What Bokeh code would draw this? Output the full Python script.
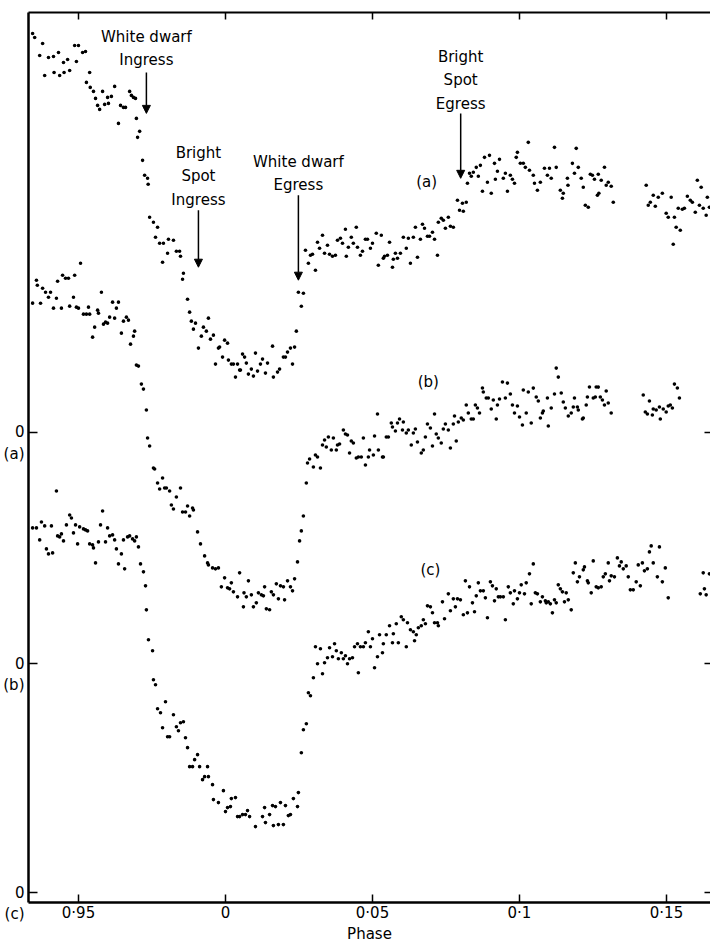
from bokeh.plotting import figure
from bokeh.models import LinearAxis, FixedTicker, Range1d, Label, Arrow, NormalHead
from bokeh.embed import file_html
from bokeh.resources import INLINE

FONT = "DejaVu Sans"

# (phase in units of 0.001, relative flux in counts above each curve's own zero)
CURVE_A = [
    (-65.6,399),(-64.9,395),(-63.2,377),(-62.2,389),(-61.5,357),(-60.2,375),(-58.5,376),(-58.3,360),
    (-56.8,380),(-56.4,357),(-55.1,370),(-54.9,360),(-53.7,373),(-53.0,362),(-51.3,387),(-50.7,371),
    (-50.0,387),(-48.6,380),(-47.6,381),(-47.3,350),(-46.2,360),(-46.0,345),(-44.9,341),(-44.2,334),
    (-43.5,327),(-42.8,323),(-41.8,341),(-41.1,328),(-40.1,335),(-39.8,329),(-38.8,336),(-37.7,346),
    (-36.4,309),(-35.7,327),(-34.7,325),(-34.0,325),(-32.6,341),(-32.0,337),(-31.3,335),(-30.6,334),
    (-30.3,314),(-29.9,295),(-29.2,301),(-28.2,272),(-27.5,257),(-26.5,254),(-26.3,248),(-25.8,215),
    (-24.5,210),(-23.8,195),(-23.1,205),(-22.4,189),(-21.4,170),(-21.1,189),(-19.7,179),(-19.4,193),
    (-17.7,192),(-16.7,181),(-15.6,181),(-15.3,176),(-14.6,153),(-14.3,159),(-12.9,133),(-12.2,120),
    (-11.6,111),(-10.9,103),(-10.2,109),(-9.2,84),(-8.2,96),(-7.5,105),(-6.5,101),(-5.8,114),
    (-5.1,93),(-4.1,97),(-3.4,68),(-2.4,84),(-2.0,85),(-1.0,75),(-0.3,92),(0.7,89),
    (1.0,72),(2.0,68),(2.7,68),(3.4,55),(4.1,68),(4.8,62),(5.1,62),(5.8,78),
    (6.5,75),(7.1,69),(7.8,58),(8.8,63),(9.5,56),(10.2,79),(10.9,61),(11.9,68),
    (12.6,73),(13.6,59),(14.3,69),(16.0,86),(16.3,55),(17.7,60),(18.4,63),(19.7,75),
    (20.4,75),(21.1,80),(22.1,84),(22.8,68),(23.5,85),(24.1,101),(24.8,140),(25.8,126),
    (26.5,139),(27.2,182),(28.2,169),(28.9,177),(29.6,178),(30.6,162),(31.3,190),(32.0,184),
    (33.0,197),(33.7,179),(34.7,187),(35.4,178),(36.4,176),(37.4,177),(38.1,192),(39.1,194),
    (39.8,189),(40.8,203),(41.1,176),(41.8,185),(42.8,195),(43.5,189),(44.5,205),(44.9,185),
    (45.9,177),(46.6,181),(47.6,193),(48.3,193),(49.3,184),(50.0,189),(51.3,199),(52.0,167),
    (53.0,197),(53.7,174),(54.1,176),(55.1,177),(55.8,190),(56.8,165),(57.1,173),(57.8,179),
    (58.5,174),(59.5,179),(60.5,195),(61.5,184),(62.2,194),(62.9,169),(63.9,195),(64.6,205),
    (65.3,175),(66.3,193),(67.0,208),(67.7,204),(68.7,196),(69.4,196),(70.4,200),(71.1,193),
    (72.1,177),(72.4,210),(73.4,214),(74.1,212),(74.8,204),(75.8,215),(76.5,206),(77.5,205),
    (78.9,232),(79.6,222),(80.6,229),(80.9,221),(81.9,230),(82.3,249),(83.0,259),(83.6,256),
    (84.3,260),(85.3,265),(86.0,256),(86.7,267),(87.4,241),(88.1,275),(89.1,250),(89.8,277),
    (90.4,239),(91.5,269),(91.8,253),(92.5,261),(93.2,273),(94.5,254),(95.2,259),(95.9,241),
    (96.9,257),(97.6,253),(98.3,249),(98.9,275),(99.3,280),(100.3,269),(101.3,269),(102.0,265),
    (103.0,290),(103.4,262),(104.7,257),(105.1,249),(106.1,242),(107.1,250),(108.5,264),(109.5,257),
    (110.2,264),(110.8,254),(111.9,285),(112.5,265),(113.9,242),(114.6,234),(114.9,239),(116.3,254),
    (116.5,247),(118.0,269),(118.7,259),(119.3,284),(120.0,265),(121.0,254),(121.7,245),(122.4,227),
    (123.4,225),(124.1,258),(124.8,257),(125.5,253),(126.5,237),(126.8,258),(127.0,239),(127.8,252),
    (128.9,265),(129.5,247),(130.2,250),(131.2,246),(131.9,230),
    (143.1,247),(143.8,227),(144.5,230),(145.5,237),(146.2,226),(147.2,235),(148.6,239),(149.9,219),
    (150.6,215),(151.6,235),(152.3,188),(152.7,215),(153.3,205),(154.0,224),(154.7,202),(155.4,223),
    (156.1,224),(157.1,236),(158.1,232),(158.8,230),(159.8,220),(160.5,252),(161.2,227),(161.8,245),
    (162.5,224),(163.5,217),(163.9,235),(164.6,225),
]

CURVE_B = [
    (-65.6,361),(-64.3,384),(-64.0,379),(-62.9,361),(-62.2,376),(-61.2,372),(-60.2,367),(-59.5,372),
    (-58.5,356),(-57.5,366),(-57.1,383),(-55.8,356),(-55.4,389),(-54.4,386),(-53.4,386),(-53.0,358),
    (-51.7,367),(-51.3,389),(-50.7,357),(-50.0,356),(-49.3,401),(-48.3,350),(-47.3,350),(-46.6,357),
    (-46.2,350),(-45.2,327),(-44.5,337),(-43.5,354),(-43.2,351),(-42.2,372),(-41.5,340),(-40.8,342),
    (-40.1,341),(-39.4,347),(-38.4,362),(-37.7,346),(-37.1,356),(-36.4,362),(-35.4,331),(-34.7,343),
    (-33.7,347),(-33.0,344),(-32.3,320),(-31.3,328),(-30.9,333),(-30.3,299),(-29.6,298),(-28.6,280),
    (-27.9,275),(-26.9,254),(-26.5,226),(-25.8,218),(-24.5,196),(-24.1,195),(-23.1,181),(-22.4,175),
    (-21.4,186),(-20.7,176),(-20.1,176),(-19.0,173),(-18.4,159),(-17.7,155),(-16.7,167),(-15.3,176),
    (-14.6,152),(-13.6,152),(-12.9,158),(-12.2,148),(-11.2,156),(-10.9,154),(-9.5,132),(-8.5,120),
    (-7.1,108),(-6.1,101),(-5.8,99),(-4.4,96),(-3.4,95),(-2.4,96),(-1.4,77),(-0.3,86),
    (0.7,76),(1.4,75),(2.0,81),(2.7,72),(4.1,67),(4.8,91),(6.1,57),(6.3,71),
    (7.1,67),(7.8,83),(8.8,69),(9.5,57),(10.5,61),(11.2,71),(12.2,69),(12.9,68),
    (13.3,77),(13.9,55),(15.0,54),(15.6,72),(16.3,69),(17.3,80),(18.0,65),(18.7,78),
    (19.7,77),(20.1,64),(21.1,83),(22.1,77),(22.8,73),(23.5,85),(24.5,102),(25.2,123),
    (25.8,133),(26.5,148),(27.5,181),(27.9,201),(28.6,205),(29.9,197),(30.6,209),(31.3,207),
    (32.3,196),(33.0,219),(33.7,224),(34.3,217),(35.0,227),(36.0,214),(36.7,226),(37.7,214),
    (38.1,219),(38.8,220),(40.1,234),(40.8,230),(41.5,229),(42.2,211),(42.8,223),(43.5,221),
    (44.5,206),(45.2,207),(46.2,207),(46.9,226),(47.6,199),(48.6,207),(49.0,214),(50.3,209),
    (50.7,228),(51.7,250),(52.0,214),(53.4,207),(53.7,207),(54.7,227),(55.4,227),(56.4,241),
    (56.8,237),(57.8,233),(58.5,241),(59.2,245),(60.2,234),(60.5,242),(61.5,231),(62.2,234),
    (63.2,219),(63.9,231),(64.6,235),(65.3,222),(66.6,211),(67.3,214),(68.0,227),(68.7,240),
    (69.7,236),(70.4,218),(71.1,250),(71.7,230),(72.4,226),(73.4,221),(74.1,235),(74.8,240),
    (75.8,234),(76.5,216),(77.5,240),(77.9,248),(78.5,223),(79.2,242),(80.2,246),(80.9,244),
    (81.9,259),(82.6,251),(83.6,245),(84.3,245),(85.0,259),(85.7,256),(86.4,251),(87.4,276),
    (87.7,272),(88.7,266),(89.4,266),(90.4,255),(91.1,264),(92.1,245),(92.5,259),(93.2,265),
    (94.2,282),(95.2,266),(95.9,281),(96.9,270),(97.6,259),(98.3,251),(99.3,258),(100.0,247),
    (101.0,239),(101.3,274),(102.3,251),(103.0,272),(104.0,241),(104.7,276),(105.7,267),(106.4,263),
    (107.1,246),(107.8,251),(108.1,253),(109.5,266),(109.8,238),(110.8,256),(111.9,270),(112.5,296),
    (113.2,287),(114.2,271),(114.9,262),(115.6,256),(116.6,248),(117.6,251),(118.3,257),(118.7,266),
    (119.7,257),(120.0,254),(121.4,245),(121.7,246),(122.7,259),(123.1,267),(123.8,277),(125.1,266),
    (125.8,267),(126.1,277),(126.8,277),(127.5,267),(128.2,264),(128.9,259),(129.5,273),(130.2,261),
    (131.2,251),
    (142.1,269),(142.8,252),(143.5,250),(144.2,263),(145.2,249),(145.5,255),(146.5,254),(147.6,257),
    (147.9,245),(148.9,255),(149.9,252),(150.6,258),(151.3,259),(152.0,256),(152.7,280),(153.7,276),
    (154.4,266),
]

CURVE_C = [
    (-65.6,365),(-64.3,365),(-63.2,353),(-62.6,371),(-61.5,367),(-60.9,344),(-60.2,339),(-59.2,367),
    (-58.8,340),(-57.5,402),(-57.1,357),(-56.4,356),(-55.8,359),(-55.1,352),(-54.1,368),(-53.0,378),
    (-52.4,375),(-51.7,360),(-51.0,368),(-50.3,349),(-49.6,366),(-48.3,364),(-47.6,363),(-46.9,362),
    (-46.2,349),(-45.2,348),(-44.9,345),(-44.2,330),(-43.2,351),(-42.5,368),(-41.8,382),(-40.8,351),
    (-40.1,365),(-39.4,357),(-38.4,358),(-37.7,353),(-37.1,344),(-36.4,329),(-35.4,339),(-34.7,353),
    (-34.3,324),(-33.3,356),(-32.6,357),(-31.6,354),(-30.9,352),(-30.3,356),(-29.6,346),(-28.9,329),
    (-27.9,321),(-27.2,307),(-26.9,283),(-26.2,253),(-24.8,242),(-24.5,213),(-23.8,208),(-23.1,184),
    (-22.1,180),(-21.4,165),(-20.4,191),(-19.7,156),(-19.0,156),(-17.7,178),(-16.7,166),(-16.0,162),
    (-15.3,170),(-14.3,171),(-13.6,155),(-12.9,145),(-12.2,126),(-11.2,126),(-10.5,133),(-9.5,138),
    (-8.8,126),(-7.8,113),(-7.1,116),(-6.1,126),(-5.8,116),(-4.4,108),(-4.1,93),(-2.4,90),
    (-0.7,102),(0.0,81),(0.7,85),(1.7,86),(2.0,94),(3.4,95),(4.1,76),(4.8,76),
    (5.8,78),(6.8,78),(7.5,82),(8.2,76),(10.2,66),(12.6,76),(13.3,85),(13.6,70),
    (15.0,78),(16.0,87),(16.3,67),(17.0,86),(18.0,68),(18.7,90),(19.7,68),(20.4,87),
    (21.4,77),(22.1,78),(23.1,94),(24.5,86),(24.8,100),(25.8,140),(26.5,163),(27.5,169),
    (28.2,200),(28.9,197),(29.9,215),(30.6,246),(31.3,229),(32.3,244),(33.0,219),(33.7,230),
    (34.7,235),(35.4,245),(36.4,236),(37.1,249),(37.7,242),(38.4,234),(39.4,240),(40.1,234),
    (40.8,237),(41.5,229),(42.2,234),(43.2,235),(43.9,246),(44.9,249),(45.2,220),(45.9,246),
    (46.9,246),(47.6,250),(48.6,261),(49.3,246),(50.0,254),(50.7,225),(51.7,236),(52.4,258),
    (53.4,240),(53.7,249),(54.7,258),(55.8,267),(56.8,250),(57.1,259),(58.1,269),(58.8,250),
    (59.8,276),(60.5,273),(61.5,246),(61.9,270),(62.9,263),(63.9,261),(64.3,252),(64.9,258),
    (65.6,265),(66.6,267),(67.3,273),(68.0,269),(68.7,287),(69.7,286),(70.4,280),(71.1,270),
    (72.1,270),(72.4,267),(73.8,291),(74.5,274),(75.8,299),(76.5,282),(77.5,294),(78.2,286),
    (78.9,294),(79.9,293),(80.9,278),(81.6,312),(82.3,280),(83.0,306),(84.0,290),(84.7,281),
    (85.3,297),(86.0,310),(86.7,302),(87.7,302),(88.4,295),(89.1,275),(90.1,311),(90.8,307),
    (91.5,292),(92.1,304),(92.8,296),(93.5,296),(94.5,296),(95.2,273),(96.2,306),(96.9,300),
    (97.9,289),(98.3,302),(99.3,294),(100.0,300),(100.6,308),(101.7,299),(102.3,310),(103.4,319),
    (104.0,289),(104.7,329),(105.4,300),(106.1,299),(107.1,291),(107.8,296),(108.8,292),(109.1,290),
    (109.8,291),(110.5,289),(111.2,280),(111.9,293),(112.5,290),(113.2,308),(113.9,304),(114.6,301),
    (115.3,291),(115.9,300),(116.6,293),(117.6,283),(118.3,320),(119.0,330),(119.7,311),(120.4,316),
    (121.7,323),(122.1,326),(123.1,312),(123.4,310),(124.4,300),(125.1,332),(126.1,306),(126.8,305),
    (127.8,306),(128.5,316),(129.2,319),(130.2,330),(130.6,312),(131.2,317),(132.3,316),(133.3,335),
    (134.0,327),(134.6,331),(135.3,324),(136.3,327),(137.0,316),(137.7,303),(138.7,303),(139.7,311),
    (140.4,328),(141.1,307),(141.8,330),(142.5,322),(143.5,324),(144.2,341),(144.8,347),(145.5,330),
    (146.9,316),(147.6,346),(148.6,311),(149.6,325),(150.6,295),
    (161.5,299),(162.5,320),(162.9,304),(163.5,298),(164.6,319),
]

CURVE_NAMES = ["(a)", "(b)", "(c)"]
CURVE_ZEROS = [461, 229, 0]          # vertical offset of each curve's zero
CURVE_TAG_POS = [(0.0684, 711), (0.0690, 511), (0.0697, 323)]

PHASE_TICKS = [-0.05, 0.0, 0.05, 0.1, 0.15]
PHASE_TICK_LABELS = ["0·95", "0", "0·05", "0·1", "0·15"]

# annotation: text, phase, text-centre, arrow top, arrow tip
EVENTS = [
    ("White dwarf\nIngress", -0.0269, 845, 821, 780),
    ("Bright\nSpot\nIngress", -0.0092, 717, 683, 626),
    ("White dwarf\nEgress", 0.0248, 720, 698, 613),
    ("Bright\nSpot\nEgress", 0.0800, 813, 780, 715),
]

p = figure(width=710, height=945, x_range=Range1d(-0.067, 0.16497), y_range=Range1d(-10, 881),
           output_backend="svg", toolbar_location=None, x_axis_location=None, y_axis_location=None,
           min_border_left=28, min_border_right=0, min_border_top=12, min_border_bottom=42)
p.grid.visible = False
p.outline_line_color = None
p.background_fill_color = "white"
p.border_fill_color = "white"

def style(ax, tick_in, width, labels=True):
    ax.major_tick_in = tick_in
    ax.major_tick_out = 0
    ax.minor_tick_line_color = None
    ax.axis_line_width = width
    ax.axis_line_color = "black"
    ax.major_tick_line_width = 1.5
    ax.major_label_text_font = FONT
    if labels:
        ax.major_label_text_color = "black"
        ax.major_label_text_font_size = "15px"
        ax.major_label_standoff = 3
    else:
        ax.major_label_text_color = None
        ax.major_label_text_font_size = "1px"
        ax.major_label_standoff = 0

bottom = LinearAxis(ticker=FixedTicker(ticks=PHASE_TICKS),
                    major_label_overrides=dict(zip(PHASE_TICKS, PHASE_TICK_LABELS)),
                    axis_label="Phase")
style(bottom, 8, 2.5)
bottom.major_label_standoff = 1
bottom.axis_label_standoff = 0
bottom.axis_label_text_font = FONT
bottom.axis_label_text_font_size = "15px"
bottom.axis_label_text_font_style = "normal"
bottom.axis_label_text_color = "black"
p.add_layout(bottom, "below")

top = LinearAxis(ticker=FixedTicker(ticks=PHASE_TICKS))
style(top, 7, 2, labels=False)
p.add_layout(top, "above")

left = LinearAxis(ticker=FixedTicker(ticks=CURVE_ZEROS),
                  major_label_overrides={z: "\u00a0\n0\n" + n for z, n in zip(CURVE_ZEROS, CURVE_NAMES)})
style(left, 9, 2.5)
left.major_label_standoff = 4
p.add_layout(left, "left")

right = LinearAxis(ticker=FixedTicker(ticks=CURVE_ZEROS))
style(right, 6, 1, labels=False)
right.axis_line_color = None
p.add_layout(right, "right")

for curve, zero in zip([CURVE_A, CURVE_B, CURVE_C], CURVE_ZEROS):
    xs = [ph / 1000.0 for ph, v in curve]
    ys = [v + zero for ph, v in curve]
    p.scatter(xs, ys, size=3.6, color="black", line_color=None)

for name, (tx, ty) in zip(CURVE_NAMES, CURVE_TAG_POS):
    p.add_layout(Label(x=tx, y=ty, text=name, text_font=FONT, text_font_size="15px",
                       text_align="center", text_baseline="middle", text_color="black"))

for text, ph, ty, a0, a1 in EVENTS:
    p.add_layout(Label(x=ph, y=ty, text=text, text_font=FONT, text_font_size="15px",
                       text_align="center", text_baseline="middle", text_line_height=1.3,
                       text_color="black"))
    p.add_layout(Arrow(end=NormalHead(size=8, fill_color="black", line_color="black"),
                       x_start=ph, y_start=a0, x_end=ph, y_end=a1, line_width=1.5,
                       line_color="black"))

open("out.html", "w").write(file_html(p, INLINE))
